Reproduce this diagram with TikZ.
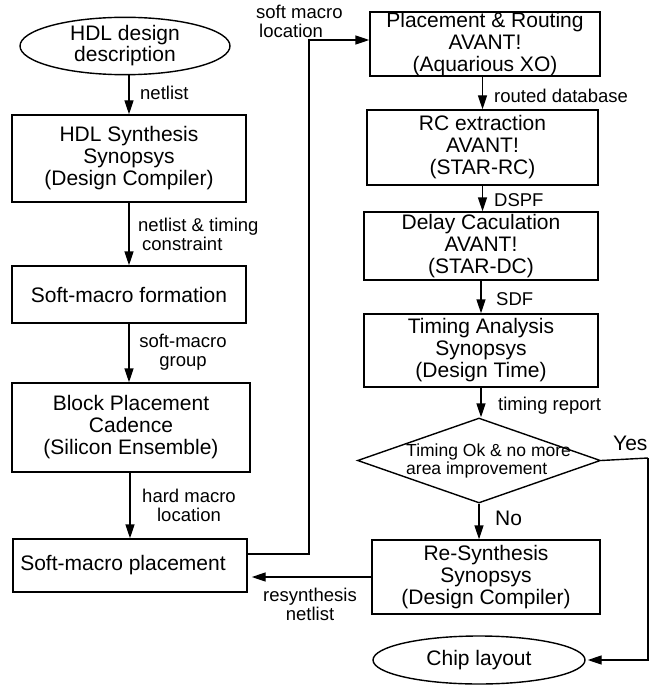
\documentclass[tikz,border=0pt]{standalone}
\usepackage{fontspec}
\setmainfont{Liberation Sans}
\usetikzlibrary{shapes.geometric,arrows.meta,calc}
\tikzset{
  boxtext/.style={font=\fontsize{21}{22}\selectfont, align=center},
  stepbox/.style={draw, line width=1.4pt, inner sep=0pt, boxtext},
  ovalbox/.style={draw, ellipse, line width=1.4pt, inner sep=0pt, boxtext},
  lbl/.style={font=\fontsize{18.5}{19}\selectfont, inner sep=0pt},
  arr/.style={line width=1.4pt, -{Triangle[length=14pt,width=9pt]}},
  ln/.style={line width=1.4pt}
}
\begin{document}
\begin{tikzpicture}[x=1pt,y=-1pt]
\useasboundingbox (0,0) rectangle (652,687);
% left column
\node[ovalbox, minimum width=210pt, minimum height=48pt] (hdl) at (125,46) {HDL design\\[-1pt]description};
\node[stepbox, minimum width=234pt, minimum height=87pt] (syn) at (129,158.5) {HDL Synthesis\\Synopsys\\(Design Compiler)};
\node[stepbox, minimum width=234pt, minimum height=57pt] (smf) at (129,294.5) {Soft-macro formation};
\node[stepbox, minimum width=238pt, minimum height=89pt] (blk) at (131,427.5) {Block Placement\\Cadence\\(Silicon Ensemble)};
\node[stepbox, minimum width=234pt, minimum height=53pt] (smp) at (130,565.5) {Soft-macro placement\hspace{14pt}};
% right column
\node[stepbox, minimum width=230pt, minimum height=64pt] (pr) at (485,44) {Placement \& Routing\\AVANT!\\(Aquarious XO)};
\node[stepbox, minimum width=231pt, minimum height=75pt] (rc) at (482.5,147.5) {RC extraction\\AVANT!\\(STAR-RC)};
\node[stepbox, minimum width=234pt, minimum height=68pt] (dly) at (481,246) {Delay Caculation\\AVANT!\\(STAR-DC)};
\node[stepbox, minimum width=234pt, minimum height=73pt] (ta) at (481,350.5) {Timing Analysis\\Synopsys\\(Design Time)};
\node[draw, diamond, line width=1.4pt, inner sep=0pt, minimum width=243pt, minimum height=85pt] (dec) at (479,460.5) {};
\node[font=\fontsize{17.5}{17.5}\selectfont, align=left, inner sep=0pt, anchor=west] (dectext) at (406,461) {Timing Ok \& no more\\area improvement};
\node[stepbox, minimum width=228pt, minimum height=74pt] (rs) at (486,577) {Re-Synthesis\\Synopsys\\(Design Compiler)};
\node[ovalbox, minimum width=212pt, minimum height=48pt] (chip) at (479,660) {Chip layout};
% coordinates
\coordinate (c1) at (309,554);
\coordinate (c2) at (309,40);
\coordinate (y1) at (648,458);
% connectors
\draw[arr] (hdl.south -| syn.north) -- (syn.north);
\draw[arr] (syn.south) -- (smf.north);
\draw[arr] (smf.south) -- (smf.south |- blk.north);
\draw[arr] (blk.south -| smp.north) -- (smp.north);
\draw[arr] (smp.east |- c1) -- (c1) -- (c2) -- (c2 -| pr.west);
\draw[arr] (pr.south -| rc.north) -- (rc.north);
\draw[arr] (rc.south) -- (rc.south |- dly.north);
\draw[arr] (dly.south) -- (ta.north);
\draw[arr] (ta.south) -- (ta.south |- dec.north);
\draw[arr] (dec.south) -- (dec.south |- rs.north);
\draw[arr, shorten >=4pt] (rs.west) -- (rs.west -| smp.east);
\draw[ln] (dec.east) -- (y1);
\draw[arr, shorten >=2pt] (y1) -- (y1 |- chip.east) -- (chip.east);
% labels
\node[lbl, anchor=west] (l1) at (140,93) {netlist};
\node[lbl, anchor=west, align=left] (l2) at (138,234) {netlist \& timing\\\hspace{4pt}constraint};
\node[lbl, align=center] (l3) at (183,352) {soft-macro\\group};
\node[lbl, align=center] (l4) at (189,505) {hard macro\\location};
\node[lbl, anchor=west, align=left] (l5) at (256,21) {soft macro\\\hspace{3pt}location};
\node[lbl, anchor=west] (l6) at (494,96) {routed database};
\node[lbl, anchor=west] (l7) at (494,200) {DSPF};
\node[lbl, anchor=west] (l8) at (496,299) {SDF};
\node[lbl, anchor=west] (l9) at (498,406) {timing report};
\node[font=\fontsize{21}{23}\selectfont, anchor=west, inner sep=0pt] (l10) at (613,443) {Yes};
\node[font=\fontsize{21}{23}\selectfont, anchor=west, inner sep=0pt] (l11) at (495,518) {No};
\node[lbl, align=center] (l12) at (310,604) {resynthesis\\netlist};
\end{tikzpicture}
\end{document}
